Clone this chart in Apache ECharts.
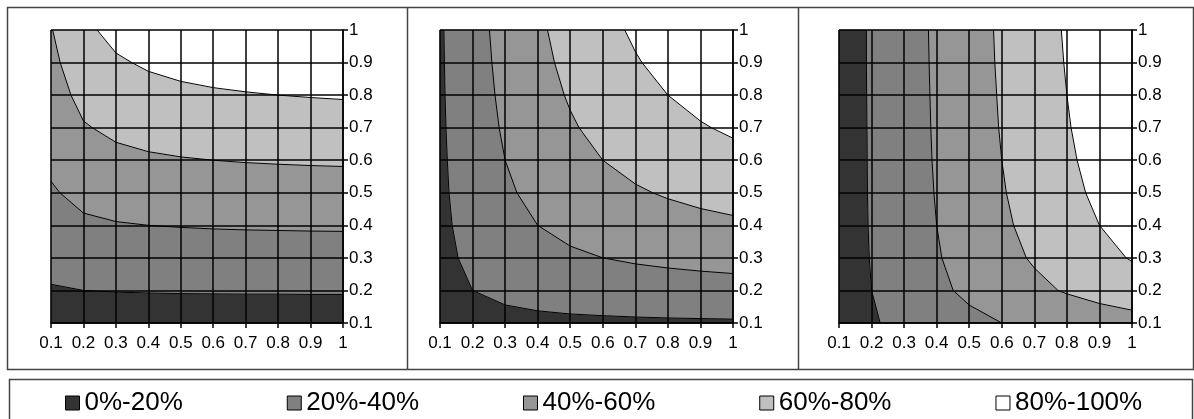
<!DOCTYPE html>
<html>
<head>
<meta charset="utf-8">
<title>Contour panels</title>
<script src="https://cdn.jsdelivr.net/npm/echarts@6/dist/echarts.min.js"></script>
<style>
html, body { margin: 0; padding: 0; background: #fff; }
#chart { width: 1194px; height: 419px; }
</style>
</head>
<body>
<div id="chart"></div>
<script>
// grid positions along both axes
const axisValues = [0.1, 0.2, 0.3, 0.4, 0.5, 0.6, 0.7, 0.8, 0.9, 1.0]
const tickLabels = ['0.1', '0.2', '0.3', '0.4', '0.5', '0.6', '0.7', '0.8', '0.9', '1']

const bandNames = ['0%-20%', '20%-40%', '40%-60%', '60%-80%', '80%-100%']
const bandLevels = [0, 0.2, 0.4, 0.6, 0.8, 1.0]
const bandColors = ['#333333', '#808080', '#969696', '#c0c0c0', '#ffffff']
const contourLevels = [0.2, 0.4, 0.6, 0.8]

// rows go from y = 0.1 (bottom) to y = 1 (top), columns from x = 0.1 to x = 1
const zLeft = [
  [0.100, 0.104, 0.105, 0.106, 0.107, 0.107, 0.107, 0.107, 0.107, 0.107],
  [0.186, 0.200, 0.205, 0.208, 0.210, 0.211, 0.212, 0.212, 0.213, 0.213],
  [0.260, 0.289, 0.300, 0.306, 0.310, 0.312, 0.314, 0.315, 0.316, 0.317],
  [0.325, 0.371, 0.390, 0.400, 0.406, 0.411, 0.414, 0.416, 0.418, 0.419],
  [0.382, 0.448, 0.476, 0.491, 0.500, 0.506, 0.511, 0.515, 0.518, 0.520],
  [0.433, 0.520, 0.557, 0.578, 0.591, 0.600, 0.607, 0.612, 0.616, 0.619],
  [0.479, 0.587, 0.635, 0.662, 0.679, 0.691, 0.700, 0.707, 0.712, 0.717],
  [0.520, 0.650, 0.709, 0.743, 0.765, 0.780, 0.791, 0.800, 0.807, 0.813],
  [0.557, 0.709, 0.780, 0.821, 0.848, 0.867, 0.881, 0.891, 0.900, 0.907],
  [0.591, 0.765, 0.848, 0.897, 0.929, 0.951, 0.968, 0.981, 0.992, 1.000]
]

const zMiddle = [
  [0.100, 0.133, 0.150, 0.160, 0.167, 0.171, 0.175, 0.178, 0.180, 0.182],
  [0.133, 0.200, 0.240, 0.267, 0.286, 0.300, 0.311, 0.320, 0.327, 0.333],
  [0.150, 0.240, 0.300, 0.343, 0.375, 0.400, 0.420, 0.436, 0.450, 0.462],
  [0.160, 0.267, 0.343, 0.400, 0.444, 0.480, 0.509, 0.533, 0.554, 0.571],
  [0.167, 0.286, 0.375, 0.444, 0.500, 0.545, 0.583, 0.615, 0.643, 0.667],
  [0.171, 0.300, 0.400, 0.480, 0.545, 0.600, 0.646, 0.686, 0.720, 0.750],
  [0.175, 0.311, 0.420, 0.509, 0.583, 0.646, 0.700, 0.747, 0.788, 0.824],
  [0.178, 0.320, 0.436, 0.533, 0.615, 0.686, 0.747, 0.800, 0.847, 0.889],
  [0.180, 0.327, 0.450, 0.554, 0.643, 0.720, 0.788, 0.847, 0.900, 0.947],
  [0.182, 0.333, 0.462, 0.571, 0.667, 0.750, 0.824, 0.889, 0.947, 1.000]
]

const zRight = [
  [0.100, 0.182, 0.250, 0.308, 0.357, 0.400, 0.438, 0.471, 0.500, 0.526],
  [0.105, 0.200, 0.286, 0.364, 0.435, 0.500, 0.560, 0.615, 0.667, 0.714],
  [0.107, 0.207, 0.300, 0.387, 0.469, 0.545, 0.618, 0.686, 0.750, 0.811],
  [0.108, 0.211, 0.308, 0.400, 0.488, 0.571, 0.651, 0.727, 0.800, 0.870],
  [0.109, 0.213, 0.313, 0.408, 0.500, 0.588, 0.673, 0.755, 0.833, 0.909],
  [0.109, 0.214, 0.316, 0.414, 0.508, 0.600, 0.689, 0.774, 0.857, 0.938],
  [0.109, 0.215, 0.318, 0.418, 0.515, 0.609, 0.700, 0.789, 0.875, 0.959],
  [0.110, 0.216, 0.320, 0.421, 0.519, 0.615, 0.709, 0.800, 0.889, 0.976],
  [0.110, 0.217, 0.321, 0.424, 0.523, 0.621, 0.716, 0.809, 0.900, 0.989],
  [0.110, 0.217, 0.323, 0.426, 0.526, 0.625, 0.722, 0.816, 0.909, 1.000]
]

const panels = [zLeft, zMiddle, zRight]
const gridBoxes = [
  { left: 51, top: 30, width: 292, height: 293 },
  { left: 440, top: 30, width: 293, height: 293 },
  { left: 839, top: 30, width: 293, height: 293 }
]

const chart = echarts.init(document.getElementById('chart'))

// one entry per grid cell, keyed by its lower-left corner
const cells = []
for (let i = 0; i < axisValues.length - 1; i++) {
  for (let j = 0; j < axisValues.length - 1; j++) {
    cells.push([axisValues[i], axisValues[j]])
  }
}

const idx = v => Math.round(v * 10) - 1

const cellCorners = (z, api) => {
  const i = idx(api.value(0))
  const j = idx(api.value(1))
  return [[i, j], [i + 1, j], [i + 1, j + 1], [i, j + 1]].map(([a, b]) => {
    const p = api.coord([axisValues[a], axisValues[b]])
    return [p[0], p[1], z[b][a]]
  })
}

// keep the part of a polygon above (or below) a level, linear along edges
const clip = (poly, level, keepAbove) => {
  const out = []
  for (let k = 0; k < poly.length; k++) {
    const a = poly[k]
    const b = poly[(k + 1) % poly.length]
    const ina = keepAbove ? a[2] >= level : a[2] <= level
    const inb = keepAbove ? b[2] >= level : b[2] <= level
    if (ina) out.push(a)
    if (ina !== inb) {
      const t = (level - a[2]) / (b[2] - a[2])
      out.push([a[0] + t * (b[0] - a[0]), a[1] + t * (b[1] - a[1]), level])
    }
  }
  return out
}

const bandRenderer = (z, lo, hi, color) => (params, api) => {
  let poly = clip(cellCorners(z, api), lo, true)
  if (poly.length) poly = clip(poly, hi, false)
  if (poly.length < 3) return { type: 'group', children: [] }
  return {
    type: 'polygon',
    shape: { points: poly.map(p => [p[0], p[1]]) },
    style: { fill: color, stroke: color, lineWidth: 0.6 }
  }
}

const contourRenderer = z => (params, api) => {
  const c = cellCorners(z, api)
  const children = []
  contourLevels.forEach(level => {
    const pts = []
    for (let k = 0; k < 4; k++) {
      const a = c[k]
      const b = c[(k + 1) % 4]
      if ((a[2] < level) !== (b[2] < level)) {
        const t = (level - a[2]) / (b[2] - a[2])
        pts.push([a[0] + t * (b[0] - a[0]), a[1] + t * (b[1] - a[1])])
      }
    }
    for (let k = 0; k + 1 < pts.length; k += 2) {
      children.push({
        type: 'line',
        shape: { x1: pts[k][0], y1: pts[k][1], x2: pts[k + 1][0], y2: pts[k + 1][1] },
        style: { stroke: '#000', lineWidth: 1 }
      })
    }
  })
  return { type: 'group', children }
}

const labelFont = {
  color: '#000',
  fontSize: 17,
  fontFamily: '"Liberation Sans", Arial, sans-serif'
}
const fmt = v => tickLabels[idx(v)]

const grids = []
const xAxes = []
const yAxes = []
const series = []

panels.forEach((z, p) => {
  grids.push(gridBoxes[p])
  xAxes.push({
    type: 'value',
    gridIndex: p,
    min: 0.1,
    max: 1,
    interval: 0.1,
    z: 5,
    axisLine: { show: true, lineStyle: { color: '#000', width: 1.5 } },
    axisTick: { show: true, length: 5, lineStyle: { color: '#000', width: 1.5 } },
    axisLabel: { ...labelFont, margin: 12, formatter: fmt },
    splitLine: { show: true, lineStyle: { color: '#000', width: 1.5 } }
  })
  yAxes.push({
    type: 'value',
    gridIndex: p,
    position: 'right',
    min: 0.1,
    max: 1,
    interval: 0.1,
    z: 5,
    axisLine: { show: true, lineStyle: { color: '#000', width: 1.5 } },
    axisTick: { show: true, length: 5, lineStyle: { color: '#000', width: 1.5 } },
    axisLabel: { ...labelFont, margin: 6, formatter: fmt },
    splitLine: { show: true, lineStyle: { color: '#000', width: 1.5 } }
  })
  bandNames.forEach((name, b) => {
    series.push({
      name,
      type: 'custom',
      xAxisIndex: p,
      yAxisIndex: p,
      z: 2,
      silent: true,
      itemStyle: { color: bandColors[b], borderColor: '#000', borderWidth: 1 },
      renderItem: bandRenderer(z, bandLevels[b], bandLevels[b + 1], bandColors[b]),
      data: cells
    })
  })
  series.push({
    type: 'custom',
    xAxisIndex: p,
    yAxisIndex: p,
    z: 3,
    silent: true,
    renderItem: contourRenderer(z),
    data: cells
  })
})

const frame = { stroke: '#444', lineWidth: 1.5, fill: null }

chart.setOption({
  animation: false,
  backgroundColor: '#fff',
  grid: grids,
  xAxis: xAxes,
  yAxis: yAxes,
  legend: {
    data: bandNames,
    left: 60,
    top: 385,
    icon: 'rect',
    itemWidth: 14,
    itemHeight: 14,
    itemGap: 104,
    selectedMode: false,
    itemStyle: { borderColor: '#000', borderWidth: 1 },
    textStyle: { color: '#000', fontSize: 26, fontFamily: '"Liberation Sans", Arial, sans-serif' }
  },
  graphic: [
    { type: 'rect', silent: true, shape: { x: 7.5, y: 7.5, width: 1186, height: 362 }, style: frame },
    { type: 'line', silent: true, shape: { x1: 407.5, y1: 7.5, x2: 407.5, y2: 369.5 }, style: frame },
    { type: 'line', silent: true, shape: { x1: 798.5, y1: 7.5, x2: 798.5, y2: 369.5 }, style: frame },
    { type: 'rect', silent: true, shape: { x: 9.5, y: 379.5, width: 1183, height: 50 }, style: frame }
  ],
  series
})

window.addEventListener('resize', () => chart.resize())
</script>
</body>
</html>
